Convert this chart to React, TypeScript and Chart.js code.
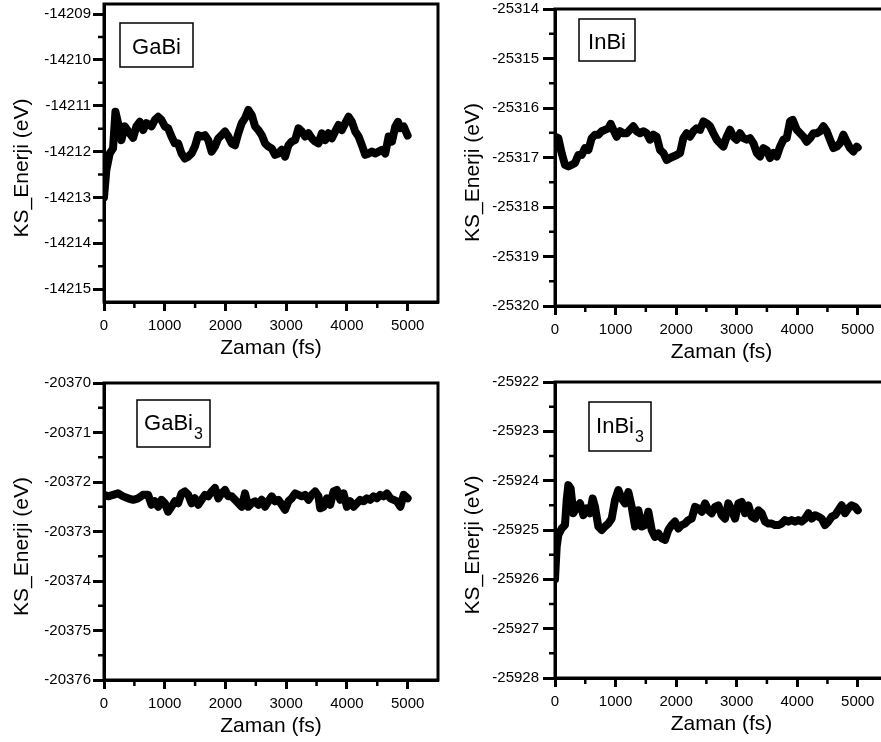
import React, { useEffect, useRef } from 'react';
import { Chart, registerables } from 'chart.js';

Chart.register(...registerables);

const FONT = '"Liberation Sans", Arial, Helvetica, sans-serif';

// ---------- GaBi ----------
const gabiTime = [
  0, 39, 94, 149, 188, 232, 287, 342, 424, 479,
  534, 589, 644, 699, 782, 837, 892, 947, 1002, 1056,
  1111, 1167, 1221, 1277, 1332, 1387, 1442, 1497, 1552, 1607,
  1662, 1717, 1772, 1827, 1882, 1937, 1992, 2047, 2102, 2157,
  2212, 2267, 2322, 2377, 2432, 2488, 2542, 2597, 2652, 2707,
  2762, 2817, 2872, 2927, 2982, 3038, 3092, 3147, 3202, 3257,
  3312, 3367, 3422, 3477, 3532, 3587, 3642, 3697, 3752, 3807,
  3862, 3917, 3972, 4027, 4082, 4137, 4192, 4247, 4302, 4357,
  4412, 4467, 4522, 4577, 4632, 4687, 4742, 4797, 4841, 4879,
  4934, 5000,
];
const gabiEnergy = [
  -14213.0, -14212.4, -14212.04, -14211.93, -14211.13, -14211.38, -14211.75, -14211.45, -14211.6, -14211.7,
  -14211.45, -14211.35, -14211.53, -14211.38, -14211.45, -14211.31, -14211.24, -14211.31, -14211.45, -14211.49,
  -14211.67, -14211.82, -14211.82, -14212.04, -14212.15, -14212.11, -14212.04, -14211.89, -14211.64, -14211.67,
  -14211.64, -14211.75, -14212.0, -14211.89, -14211.71, -14211.64, -14211.56, -14211.67, -14211.82, -14211.86,
  -14211.6, -14211.38, -14211.27, -14211.09, -14211.2, -14211.45, -14211.53, -14211.64, -14211.82, -14211.89,
  -14211.93, -14212.07, -14212.04, -14211.96, -14212.11, -14211.86, -14211.78, -14211.75, -14211.49, -14211.56,
  -14211.67, -14211.6, -14211.71, -14211.78, -14211.82, -14211.6, -14211.75, -14211.6, -14211.71, -14211.56,
  -14211.42, -14211.53, -14211.38, -14211.24, -14211.35, -14211.56, -14211.67, -14211.86, -14212.07, -14212.04,
  -14212.0, -14212.04, -14212.0, -14211.96, -14212.04, -14211.67, -14211.78, -14211.45, -14211.35, -14211.49,
  -14211.45, -14211.65,
];

// ---------- InBi ----------
const inbiTime = [
  0, 55, 110, 165, 220, 275, 330, 385, 441, 496,
  551, 606, 661, 716, 771, 826, 881, 920, 964, 1019,
  1074, 1129, 1184, 1239, 1294, 1349, 1404, 1459, 1514, 1569,
  1624, 1679, 1735, 1790, 1845, 1900, 1955, 2010, 2065, 2120,
  2175, 2230, 2285, 2340, 2396, 2451, 2506, 2561, 2616, 2671,
  2726, 2781, 2836, 2891, 2946, 3001, 3056, 3111, 3167, 3222,
  3277, 3332, 3387, 3442, 3497, 3552, 3607, 3662, 3717, 3772,
  3827, 3882, 3927, 3993, 4048, 4103, 4158, 4213, 4268, 4323,
  4378, 4433, 4488, 4543, 4598, 4653, 4708, 4763, 4818, 4873,
  4928, 4983, 5000,
];
const inbiEnergy = [
  -25316.58, -25316.61, -25316.91, -25317.15, -25317.18, -25317.15, -25317.11, -25316.95, -25316.95, -25316.81,
  -25316.85, -25316.61, -25316.54, -25316.54, -25316.47, -25316.44, -25316.41, -25316.32, -25316.44, -25316.58,
  -25316.47, -25316.51, -25316.51, -25316.44, -25316.37, -25316.47, -25316.51, -25316.47, -25316.51, -25316.64,
  -25316.54, -25316.58, -25316.85, -25316.91, -25317.05, -25317.01, -25316.98, -25316.95, -25316.91, -25316.61,
  -25316.51, -25316.58, -25316.47, -25316.41, -25316.44, -25316.27, -25316.31, -25316.37, -25316.51, -25316.64,
  -25316.71, -25316.78, -25316.58, -25316.44, -25316.58, -25316.64, -25316.51, -25316.61, -25316.64, -25316.61,
  -25316.71, -25316.91, -25316.98, -25316.81, -25316.85, -25317.01, -25316.91, -25316.98, -25316.78, -25316.64,
  -25316.61, -25316.27, -25316.24, -25316.44, -25316.51, -25316.58, -25316.68, -25316.61, -25316.51, -25316.51,
  -25316.47, -25316.37, -25316.47, -25316.64, -25316.81, -25316.78, -25316.71, -25316.54, -25316.68, -25316.81,
  -25316.88, -25316.78, -25316.8,
];

// ---------- GaBi3 ----------
const gabi3Time = [
  0, 67, 149, 232, 314, 397, 479, 562, 644, 727,
  782, 837, 892, 947, 1002, 1056, 1111, 1167, 1221, 1277,
  1332, 1387, 1442, 1497, 1552, 1607, 1662, 1717, 1772, 1827,
  1882, 1937, 1992, 2047, 2102, 2157, 2212, 2267, 2322, 2377,
  2432, 2488, 2542, 2597, 2652, 2707, 2762, 2817, 2872, 2927,
  2982, 3038, 3092, 3147, 3202, 3257, 3312, 3367, 3422, 3477,
  3532, 3560, 3615, 3670, 3725, 3780, 3835, 3890, 3945, 4000,
  4055, 4110, 4165, 4220, 4275, 4330, 4385, 4440, 4495, 4550,
  4605, 4660, 4715, 4770, 4825, 4880, 4935, 5000,
];
const gabi3Energy = [
  -20372.26, -20372.29, -20372.26, -20372.23, -20372.29, -20372.33, -20372.36, -20372.33, -20372.26, -20372.26,
  -20372.46, -20372.39, -20372.5, -20372.36, -20372.43, -20372.6, -20372.5, -20372.39, -20372.43, -20372.23,
  -20372.19, -20372.26, -20372.43, -20372.33, -20372.46, -20372.36, -20372.26, -20372.29, -20372.19, -20372.12,
  -20372.33, -20372.23, -20372.16, -20372.29, -20372.29, -20372.36, -20372.43, -20372.5, -20372.23, -20372.5,
  -20372.43, -20372.39, -20372.46, -20372.36, -20372.5, -20372.39, -20372.29, -20372.39, -20372.36, -20372.46,
  -20372.56, -20372.39, -20372.33, -20372.23, -20372.26, -20372.29, -20372.26, -20372.36, -20372.26, -20372.19,
  -20372.29, -20372.53, -20372.5, -20372.33, -20372.46, -20372.19, -20372.16, -20372.36, -20372.23, -20372.5,
  -20372.39, -20372.5, -20372.43, -20372.36, -20372.39, -20372.33, -20372.36, -20372.29, -20372.33, -20372.26,
  -20372.29, -20372.23, -20372.33, -20372.36, -20372.39, -20372.5, -20372.26, -20372.33,
];

// ---------- InBi3 ----------
const inbi3Time = [
  0, 28, 55, 110, 165, 193, 220, 259, 303, 358,
  413, 468, 523, 578, 622, 661, 716, 771, 826, 881,
  936, 991, 1046, 1101, 1157, 1212, 1267, 1322, 1377, 1432,
  1487, 1542, 1597, 1652, 1707, 1762, 1817, 1872, 1927, 1982,
  2037, 2092, 2148, 2203, 2258, 2313, 2368, 2423, 2478, 2533,
  2588, 2643, 2698, 2753, 2808, 2863, 2919, 2974, 3029, 3084,
  3139, 3194, 3249, 3304, 3359, 3414, 3469, 3524, 3579, 3634,
  3689, 3744, 3799, 3854, 3909, 3964, 4019, 4075, 4130, 4185,
  4240, 4295, 4350, 4405, 4460, 4515, 4570, 4625, 4680, 4735,
  4790, 4845, 4900, 4955, 5000,
];
const inbi3Energy = [
  -25926.0, -25925.34, -25925.1, -25924.97, -25924.9, -25924.39, -25924.09, -25924.16, -25924.66, -25924.53,
  -25924.46, -25924.7, -25924.56, -25924.66, -25924.36, -25924.53, -25924.93, -25925.0, -25924.93, -25924.87,
  -25924.77, -25924.39, -25924.19, -25924.36, -25924.46, -25924.23, -25924.53, -25924.93, -25924.6, -25924.93,
  -25924.9, -25924.63, -25925.0, -25925.14, -25925.07, -25925.17, -25925.2, -25925.0, -25924.9, -25924.83,
  -25924.97, -25924.9, -25924.87, -25924.8, -25924.77, -25924.53, -25924.56, -25924.63, -25924.46, -25924.6,
  -25924.66, -25924.53, -25924.5, -25924.7, -25924.77, -25924.46, -25924.6, -25924.77, -25924.46, -25924.43,
  -25924.66, -25924.5, -25924.73, -25924.77, -25924.6, -25924.66, -25924.83, -25924.87, -25924.87, -25924.9,
  -25924.9, -25924.87, -25924.8, -25924.83, -25924.8, -25924.83, -25924.8, -25924.83, -25924.77, -25924.66,
  -25924.77, -25924.7, -25924.73, -25924.77, -25924.9, -25924.83, -25924.73, -25924.7, -25924.6, -25924.5,
  -25924.66, -25924.56, -25924.5, -25924.53, -25924.6,
];

const X_MIN = 0;
const X_MAX = 5500;
const X_TICKS = [0, 1000, 2000, 3000, 4000, 5000];
const X_TITLE = 'Zaman (fs)';
const Y_TITLE = 'KS_Enerji (eV)';

type PanelProps = {
  time: number[];
  energy: number[];
  yMin: number;
  yMax: number;
  name: string;
  sub: string;
  box: number[]; // dx, dy, w, h relative to chart area
  left: number;
  top: number;
  width: number;
  height: number;
  padTop: number;
  padRight: number;
  yWidth: number;
  yTick: number;
  yPad: number;
};

function Panel(p: PanelProps) {
  const ref = useRef<HTMLCanvasElement>(null);
  useEffect(() => {
    if (!ref.current) return;
    const decor = {
      id: 'decor',
      afterDraw(chart: any) {
        const { ctx, chartArea: a, scales } = chart;
        const xs = scales.x;
        const ys = scales.y;
        ctx.save();
        ctx.strokeStyle = '#000';
        ctx.lineWidth = 3;
        ctx.strokeRect(a.left, a.top, a.right - a.left, a.bottom - a.top);
        // minor ticks
        ctx.lineWidth = 2.5;
        ctx.beginPath();
        for (let v = Math.ceil(p.yMin) - 0.5; v < p.yMax; v += 1) {
          if (v <= p.yMin) continue;
          const y = ys.getPixelForValue(v);
          ctx.moveTo(a.left - 6, y);
          ctx.lineTo(a.left, y);
        }
        for (let v = 500; v < X_MAX; v += 1000) {
          const x = xs.getPixelForValue(v);
          ctx.moveTo(x, a.bottom);
          ctx.lineTo(x, a.bottom + 6);
        }
        ctx.stroke();
        ctx.restore();

        // y title
        ctx.save();
        ctx.fillStyle = '#000';
        ctx.font = `21px ${FONT}`;
        ctx.textAlign = 'center';
        ctx.textBaseline = 'middle';
        ctx.translate(a.left - 82, (a.top + a.bottom) / 2 + 15);
        ctx.rotate(-Math.PI / 2);
        ctx.fillText(Y_TITLE, 0, 0);
        ctx.restore();

        // legend box
        ctx.save();
        const bx = a.left + p.box[0];
        const by = a.top + p.box[1];
        const bw = p.box[2];
        const bh = p.box[3];
        ctx.fillStyle = '#fff';
        ctx.fillRect(bx, by, bw, bh);
        ctx.strokeStyle = '#000';
        ctx.lineWidth = 1.5;
        ctx.strokeRect(bx, by, bw, bh);
        ctx.font = `22px ${FONT}`;
        const w1 = ctx.measureText(p.name).width;
        ctx.font = `16px ${FONT}`;
        const w2 = p.sub ? ctx.measureText(p.sub).width + 1 : 0;
        const tx = bx + (bw - w1 - w2) / 2;
        const base = by + bh / 2 + (p.sub ? 6 : 8.5);
        ctx.fillStyle = '#000';
        ctx.textAlign = 'left';
        ctx.textBaseline = 'alphabetic';
        ctx.font = `22px ${FONT}`;
        ctx.fillText(p.name, tx, base);
        if (p.sub) {
          ctx.font = `16px ${FONT}`;
          ctx.fillText(p.sub, tx + w1 + 1, base + 9);
        }
        ctx.restore();
      },
    };

    const chart = new Chart(ref.current, {
      type: 'line',
      data: {
        datasets: [
          {
            data: p.time.map((t, i) => ({ x: t, y: p.energy[i] })),
            borderColor: '#000',
            backgroundColor: '#000',
            borderWidth: 8,
            pointRadius: 0,
            tension: 0,
            fill: false,
            borderJoinStyle: 'round',
            borderCapStyle: 'round',
          },
        ],
      },
      options: {
        animation: false,
        responsive: false,
        maintainAspectRatio: false,
        layout: { padding: { top: p.padTop, right: p.padRight, left: 0, bottom: 0 } },
        plugins: { legend: { display: false }, tooltip: { enabled: false } },
        scales: {
          x: {
            type: 'linear',
            min: X_MIN,
            max: X_MAX,
            afterBuildTicks: (s: any) => {
              s.ticks = X_TICKS.map((v) => ({ value: v }));
            },
            afterFit: (s: any) => {
              s.height = 68;
              s.paddingLeft = 0;
              s.paddingRight = 0;
            },
            border: { display: true, width: 3, color: '#000' },
            grid: {
              drawOnChartArea: false,
              tickLength: 9,
              tickWidth: 3,
              tickColor: '#000',
              color: '#000',
            },
            ticks: {
              padding: 6,
              color: '#000',
              maxRotation: 0,
              autoSkip: false,
              font: { family: FONT, size: 15 },
              callback: (v: any) => String(v),
            },
            title: {
              display: true,
              text: X_TITLE,
              color: '#000',
              font: { family: FONT, size: 21 },
              padding: { top: 0, bottom: 9 },
            },
          },
          y: {
            type: 'linear',
            min: p.yMin,
            max: p.yMax,
            afterFit: (s: any) => {
              s.width = p.yWidth;
              s.paddingTop = 0;
              s.paddingBottom = 0;
            },
            border: { display: true, width: 3, color: '#000' },
            grid: {
              drawOnChartArea: false,
              tickLength: p.yTick,
              tickWidth: 3,
              tickColor: '#000',
              color: '#000',
            },
            ticks: {
              stepSize: 1,
              includeBounds: false,
              padding: p.yPad,
              color: '#000',
              autoSkip: false,
              font: { family: FONT, size: 15 },
              callback: (v: any) => (Number.isInteger(v) ? String(v) : ''),
            },
          },
        },
      } as any,
      plugins: [decor],
    });
    return () => chart.destroy();
  }, []);
  return (
    <canvas
      ref={ref}
      width={p.width}
      height={p.height}
      style={{ position: 'absolute', left: p.left, top: p.top, width: p.width, height: p.height }}
    />
  );
}

export default function App() {
  return (
    <div
      style={{
        position: 'absolute',
        left: 0,
        top: 0,
        width: 881,
        height: 742,
        overflow: 'hidden',
        background: '#fff',
      }}
    >
      <Panel
        time={gabiTime}
        energy={gabiEnergy}
        yMin={-14215.28}
        yMax={-14208.78}
        name="GaBi"
        sub=""
        box={[16, 19, 73, 44]}
        left={0}
        top={0}
        width={441}
        height={370}
        padTop={4}
        padRight={3}
        yWidth={104}
        yTick={11}
        yPad={2}
      />
      <Panel
        time={inbiTime}
        energy={inbiEnergy}
        yMin={-25320}
        yMax={-25314}
        name="InBi"
        sub=""
        box={[24, 10, 56, 42]}
        left={441}
        top={0}
        width={450}
        height={374}
        padTop={9}
        padRight={3}
        yWidth={114}
        yTick={12}
        yPad={4}
      />
      <Panel
        time={gabi3Time}
        energy={gabi3Energy}
        yMin={-20376}
        yMax={-20370}
        name="GaBi"
        sub="3"
        box={[33, 17, 73, 47]}
        left={0}
        top={370}
        width={441}
        height={378}
        padTop={13}
        padRight={3}
        yWidth={104}
        yTick={11}
        yPad={2}
      />
      <Panel
        time={inbi3Time}
        energy={inbi3Energy}
        yMin={-25928}
        yMax={-25922}
        name="InBi"
        sub="3"
        box={[34, 20, 62, 49]}
        left={441}
        top={370}
        width={450}
        height={376}
        padTop={12}
        padRight={3}
        yWidth={114}
        yTick={12}
        yPad={4}
      />
    </div>
  );
}
